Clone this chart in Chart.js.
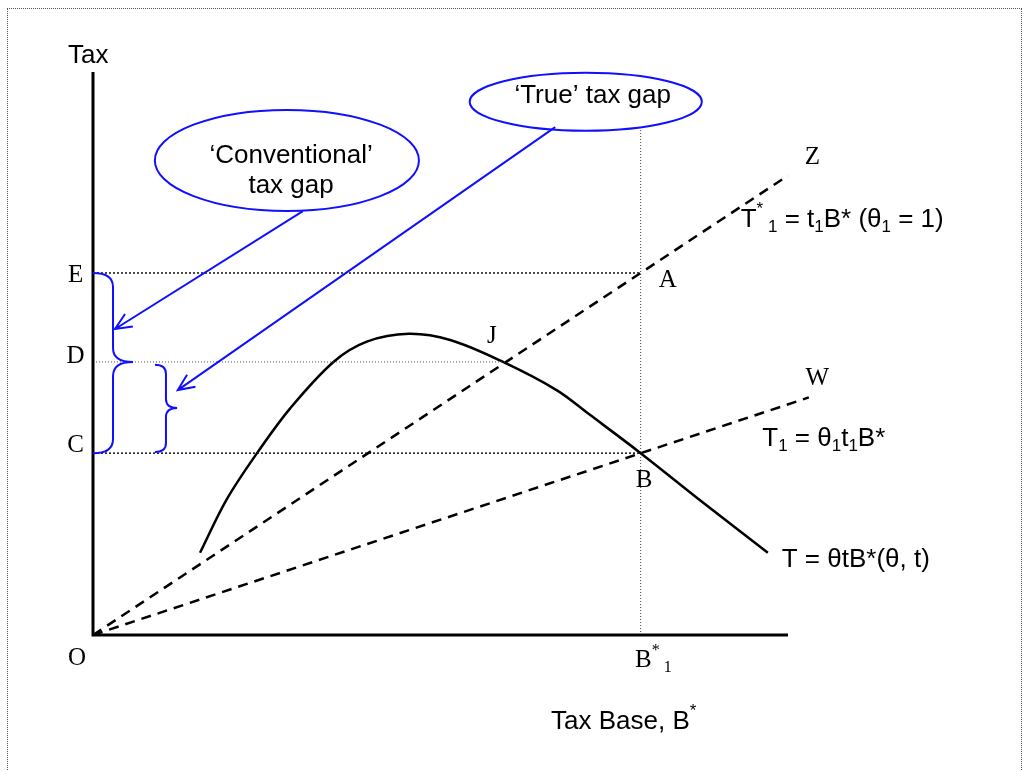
<!DOCTYPE html>
<html>
<head>
<meta charset="utf-8">
<script src="https://cdn.jsdelivr.net/npm/chart.js@4/dist/chart.umd.min.js"></script>
<style>
  html, body { margin: 0; padding: 0; background: #fff; overflow: hidden; }
  #frame { position: absolute; left: 7px; top: 8px; width: 1013px; height: 800px; border: 1px dotted #555; }
  #c { position: absolute; left: 0; top: 0; }
</style>
</head>
<body>
<div id="frame"></div>
<canvas id="c" width="1028" height="771"></canvas>
<script>
// tax revenue curve T = θtB*(θ, t)
const curveX = [15.4, 19.2, 23.6, 28.4, 34.6, 39.4, 45.4, 51.4, 59.0, 66.7, 71.5, 78.8, 87.9, 97.1];
const curveY = [14.6, 24.0, 32.3, 40.3, 48.5, 52.1, 53.5, 52.4, 48.5, 43.5, 39.1, 32.3, 23.4, 14.6];

// tax levels on the vertical axis and where their guide stops (A, J, B)
const levelNames = ['E', 'D', 'C'];
const levelValues = [64.3, 48.5, 32.3];
const levelEnds = [78.8, 59.4, 78.8];

const baseStar = 78.8;      // B*1
const rayZ = [100, 81.6];   // T*1 = t1B*
const rayW = [103, 42.2];   // T1 = θ1t1B*
const axisMax = 100;

const SANS = '"Liberation Sans", Arial, sans-serif';
const SERIF = '"Liberation Serif", "Times New Roman", serif';
const BLUE = '#1010ff';

const pts = (xs, ys) => xs.map((v, i) => ({ x: v, y: ys[i] }));

const line = (data, extra) => Object.assign({
  data: data,
  showLine: true,
  borderColor: '#000',
  borderWidth: 1,
  pointRadius: 0,
  tension: 0,
  fill: false
}, extra);

const datasets = [
  // axes
  line([{ x: 0, y: axisMax }, { x: 0, y: 0 }, { x: axisMax, y: 0 }], { borderWidth: 3 }),
  // dotted guides
  ...levelValues.map((v, i) => line([{ x: 0, y: v }, { x: levelEnds[i], y: v }],
    { borderWidth: i === 1 ? 1 : 1.5, borderDash: i === 1 ? [1, 2] : [2, 2], borderColor: i === 1 ? '#555' : '#111' })),
  line([{ x: baseStar, y: 0 }, { x: baseStar, y: 89.7 }], { borderWidth: 1, borderDash: [1, 2], borderColor: '#444' }),
  // rays from the origin
  line([{ x: 0, y: 0 }, { x: rayZ[0], y: rayZ[1] }], { borderWidth: 2.5, borderDash: [10, 7] }),
  line([{ x: 0, y: 0 }, { x: rayW[0], y: rayW[1] }], { borderWidth: 2.5, borderDash: [10, 7] }),
  // the curve
  line(pts(curveX, curveY), { borderWidth: 2.5, tension: 0.35 })
];

function rich(ctx, x0, y0, parts, size, family, align) {
  const small = Math.round(size * 0.65);
  const fontOf = k => (k === 'n' ? size : small) + 'px ' + family;
  let total = 0;
  parts.forEach(([t, k]) => { ctx.font = fontOf(k); total += ctx.measureText(t).width; });
  let x = align === 'center' ? x0 - total / 2 : x0;
  ctx.textAlign = 'left';
  ctx.textBaseline = 'alphabetic';
  parts.forEach(([t, k]) => {
    ctx.font = fontOf(k);
    const dy = k === 'sub' ? size * 0.2 : k === 'sup' ? -size * 0.5 : 0;
    ctx.fillText(t, x, y0 + dy);
    x += ctx.measureText(t).width;
  });
}

function brace(ctx, x0, xm, xt, yTop, yMid, yBot, r) {
  ctx.beginPath();
  ctx.moveTo(x0, yTop);
  ctx.quadraticCurveTo(xm, yTop, xm, yTop + r);
  ctx.lineTo(xm, yMid - r);
  ctx.quadraticCurveTo(xm, yMid, xt, yMid);
  ctx.quadraticCurveTo(xm, yMid, xm, yMid + r);
  ctx.lineTo(xm, yBot - r);
  ctx.quadraticCurveTo(xm, yBot, x0, yBot);
  ctx.stroke();
}

function arrow(ctx, x1, y1, x2, y2) {
  const a = Math.atan2(y2 - y1, x2 - x1);
  const len = 18, spread = 0.42;
  ctx.beginPath();
  ctx.moveTo(x1, y1);
  ctx.lineTo(x2, y2);
  ctx.moveTo(x2 - len * Math.cos(a - spread), y2 - len * Math.sin(a - spread));
  ctx.lineTo(x2, y2);
  ctx.lineTo(x2 - len * Math.cos(a + spread), y2 - len * Math.sin(a + spread));
  ctx.stroke();
}

const notes = {
  id: 'notes',
  afterDatasetsDraw(chart) {
    const { ctx, scales: { x, y } } = chart;
    const px = v => x.getPixelForValue(v);
    const py = v => y.getPixelForValue(v);
    ctx.save();
    ctx.fillStyle = '#000';

    // axis titles
    rich(ctx, px(-3.6), py(101.6), [['Tax', 'n']], 26, SANS);
    rich(ctx, px(65.9), py(-16.7), [['Tax Base, B', 'n'], ['*', 'sup']], 26, SANS);

    // level letters
    const letterY = [63.8, 49.4, 33.7];
    ctx.font = '25px ' + SERIF;
    ctx.textAlign = 'center';
    ctx.textBaseline = 'middle';
    levelNames.forEach((n, i) => ctx.fillText(n, px(-2.5), py(letterY[i])));
    ctx.fillText('O', px(-2.3), py(-4.1));

    // point letters
    ctx.textBaseline = 'alphabetic';
    [['Z', 103.5, 83.7], ['A', 82.7, 61.8], ['J', 57.4, 51.9], ['W', 104.2, 44.4], ['B', 79.3, 26.3]]
      .forEach(([t, a, b]) => ctx.fillText(t, px(a), py(b)));
    rich(ctx, px(78.0), py(-5.7), [['B', 'n'], ['*', 'sup'], [' 1', 'sub']], 25, SERIF);

    // equations
    rich(ctx, px(93.2), py(72.5), [['T', 'n'], ['*', 'sup'], [' 1', 'sub'], [' = t', 'n'], ['1', 'sub'],
      ['B* (θ', 'n'], ['1', 'sub'], [' = 1)', 'n']], 26, SANS);
    rich(ctx, px(96.3), py(33.6), [['T', 'n'], ['1', 'sub'], [' = θ', 'n'], ['1', 'sub'], ['t', 'n'],
      ['1', 'sub'], ['B*', 'n']], 26, SANS);
    rich(ctx, px(99.1), py(12.1), [['T = θtB*(θ, t)', 'n']], 26, SANS);

    // blue callouts
    ctx.strokeStyle = BLUE;
    ctx.lineWidth = 2;
    const ell = (cx, cy, rx, ry) => {
      ctx.beginPath();
      ctx.ellipse(px(cx), py(cy), px(cx + rx) - px(cx), py(cy) - py(cy + ry), 0, 0, Math.PI * 2);
      ctx.stroke();
    };
    ell(27.9, 84.3, 19.0, 8.97);
    ell(70.9, 94.7, 16.7, 5.15);
    rich(ctx, px(28.5), py(83.8), [['\u2018Conventional\u2019', 'n']], 26, SANS, 'center');
    rich(ctx, px(28.5), py(78.5), [['tax gap', 'n']], 26, SANS, 'center');
    rich(ctx, px(71.9), py(94.5), [['\u2018True\u2019 tax gap', 'n']], 26, SANS, 'center');

    arrow(ctx, px(30.2), py(75.3), px(3.17), py(54.35));
    arrow(ctx, px(66.5), py(90.2), px(12.2), py(43.5));

    brace(ctx, px(0), px(2.88), px(5.76), py(levelValues[0]), py(levelValues[1]), py(levelValues[2]), 14);
    brace(ctx, px(8.92), px(10.5), px(12.1), py(48.0), py(40.3), py(32.5), 9);
    ctx.restore();
  }
};

// map so that the origin sits at (93, 635) and 100 units span the axes
const pxX = 6.95, pxY = 5.63;
new Chart(document.getElementById('c'), {
  type: 'scatter',
  data: { datasets: datasets },
  options: {
    responsive: false,
    animation: false,
    devicePixelRatio: 1,
    layout: { padding: 0 },
    plugins: { legend: { display: false }, tooltip: { enabled: false } },
    scales: {
      x: { type: 'linear', display: false, min: -93 / pxX, max: (1028 - 93) / pxX },
      y: { type: 'linear', display: false, min: -(771 - 635) / pxY, max: 635 / pxY }
    }
  },
  plugins: [notes]
});
</script>
</body>
</html>
